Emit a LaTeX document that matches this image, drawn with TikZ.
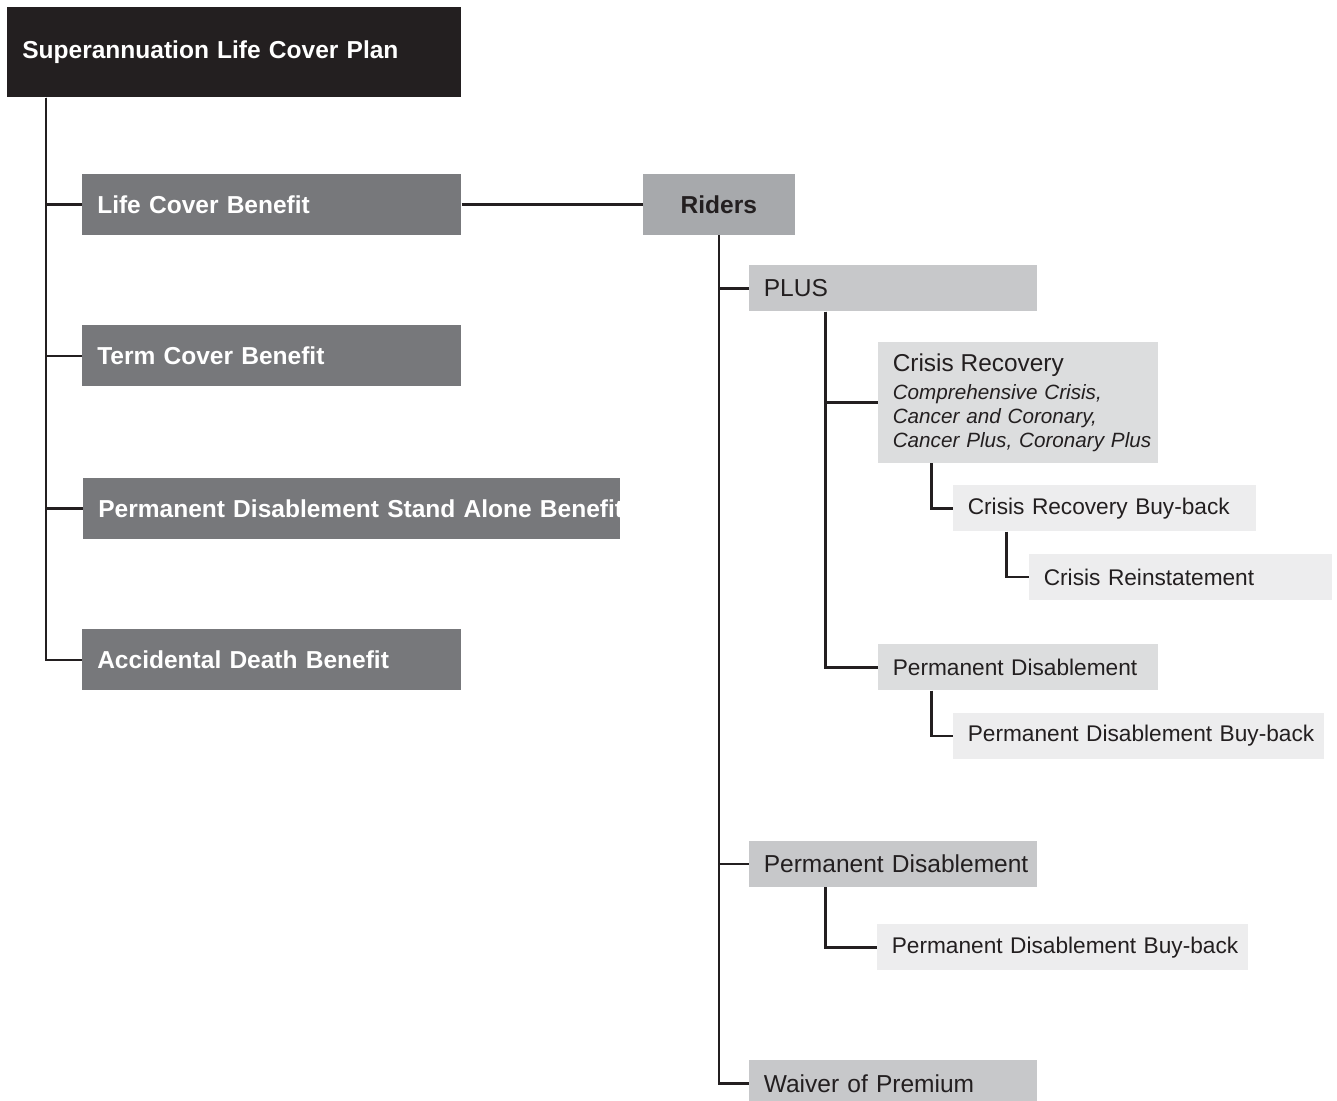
\documentclass[tikz,border=0pt]{standalone}
\usepackage{fontspec}
\setmainfont{Liberation Sans}
\usepackage{xcolor}
\usetikzlibrary{positioning}

\definecolor{ink}{HTML}{231F20}
\definecolor{planfill}{HTML}{231F20}
\definecolor{benefitfill}{HTML}{77787B}
\definecolor{ridersfill}{HTML}{A7A9AC}
\definecolor{onefill}{HTML}{C7C8CA}
\definecolor{twofill}{HTML}{DCDDDE}
\definecolor{threefill}{HTML}{EDEDEE}

\begin{document}
\begin{tikzpicture}[
x=0.75pt, y=-0.75pt,
tbox/.style={
    rectangle,
    inner xsep=0pt,
    inner ysep=0pt,
    align=left,
    execute at begin node={\leftskip=11.25pt}
},
planbox/.style={
    tbox,
    fill=planfill,
    text=white,
    font=\fontsize{18.4}{22}\selectfont\bfseries,
    text width=340.5pt,
    minimum height=67.5pt,
    anchor=north west
},
benefit/.style={
    tbox,
    fill=benefitfill,
    text=white,
    font=\fontsize{18.4}{22}\selectfont\bfseries,
    text width=284.25pt,
    minimum height=45.75pt
},
riderbox/.style={
    rectangle,
    fill=ridersfill,
    text=ink,
    font=\fontsize{18.4}{22}\selectfont\bfseries,
    minimum width=114pt,
    minimum height=45.75pt,
    inner sep=0pt,
    align=center
},
levelone/.style={
    tbox,
    fill=onefill,
    text=ink,
    font=\fontsize{18.4}{22}\selectfont,
    text width=216pt,
    minimum height=34.5pt
},
leveltwo/.style={
    tbox,
    fill=twofill,
    text=ink,
    font=\fontsize{17}{20}\selectfont,
    text width=210pt,
    minimum height=34.5pt
},
levelthree/.style={
    tbox,
    fill=threefill,
    text=ink,
    font=\fontsize{17}{20}\selectfont,
    minimum height=34.5pt
},
line/.style={
    draw=ink,
    line width=1.8pt
}
]
\useasboundingbox (0,0) rectangle (1337,1100);

% Plan and benefits
\node[planbox] (plan) at (7,7) {Superannuation Life Cover Plan};

\node[benefit,below right=57pt and 56.25pt of plan.south west] (life) {Life Cover Benefit};

\node[benefit,below=67.5pt of life.south west,anchor=north west] (term) {Term Cover Benefit};

\node[benefit,text width=402.75pt,below=68.25pt of term.south west,anchor=north west,xshift=0.75pt] (pdsa)
{\mbox{Permanent Disablement Stand Alone Benefit}};

\node[benefit,below=67.5pt of pdsa.south west,anchor=north west,xshift=-0.75pt] (adb) {Accidental Death Benefit};

% Riders
\node[riderbox,right=135.75pt of life] (riders) {Riders};

\node[levelone,below right=22.5pt and 79.5pt of riders.south west] (plus) {PLUS};

\node[leveltwo,minimum height=90.75pt,font=\fontsize{15.5}{18}\selectfont,
  below right=22.5pt and 96.75pt of plus.south west] (crisis)
{{\fontsize{18.3}{20}\selectfont Crisis Recovery}\\[3pt]
\itshape Comprehensive Crisis,\\
\itshape Cancer and Coronary,\\
\itshape Cancer Plus, Coronary Plus};

\node[levelthree,text width=227.25pt,below right=16.5pt and 56.25pt of crisis.south west] (crbuy)
{Crisis Recovery Buy-back};

\node[levelthree,text width=227.25pt,below right=16.5pt and 57pt of crbuy.south west] (crrein)
{Crisis Reinstatement};

\node[leveltwo,below=135.75pt of crisis.south west,anchor=north west] (pdplus)
{Permanent Disablement};

\node[levelthree,text width=278.25pt,below right=16.5pt and 56.25pt of pdplus.south west] (pdplusbuy)
{Permanent Disablement Buy-back};

\node[levelone,below=396.75pt of plus.south west,anchor=north west] (pd)
{Permanent Disablement};

\node[levelthree,text width=278.25pt,below right=27.75pt and 96pt of pd.south west] (pdbuy)
{Permanent Disablement Buy-back};

\node[levelone,below=129.75pt of pd.south west,anchor=north west] (waiver)
{Waiver of Premium};

% Connections
\draw[line] ([xshift=29.25pt]plan.south west) |- (life.west);
\draw[line] ([xshift=29.25pt]plan.south west) |- (term.west);
\draw[line] ([xshift=29.25pt]plan.south west) |- (pdsa.west);
\draw[line] ([xshift=29.25pt]plan.south west) |- (adb.west);

\draw[line] (life.east) -- (riders.west);

\draw[line] (riders.south) |- (plus.west);
\draw[line] (riders.south) |- (pd.west);
\draw[line] (riders.south) |- (waiver.west);

\draw[line] ([xshift=57.75pt]plus.south west) |- (crisis.west);
\draw[line] ([xshift=57.75pt]plus.south west) |- (pdplus.west);
\draw[line] ([xshift=40.5pt]crisis.south west) |- (crbuy.west);
\draw[line] ([xshift=40.5pt]crbuy.south west) |- (crrein.west);
\draw[line] ([xshift=40.5pt]pdplus.south west) |- (pdplusbuy.west);

\draw[line] ([xshift=57.75pt]pd.south west) |- (pdbuy.west);

\end{tikzpicture}
\end{document}
